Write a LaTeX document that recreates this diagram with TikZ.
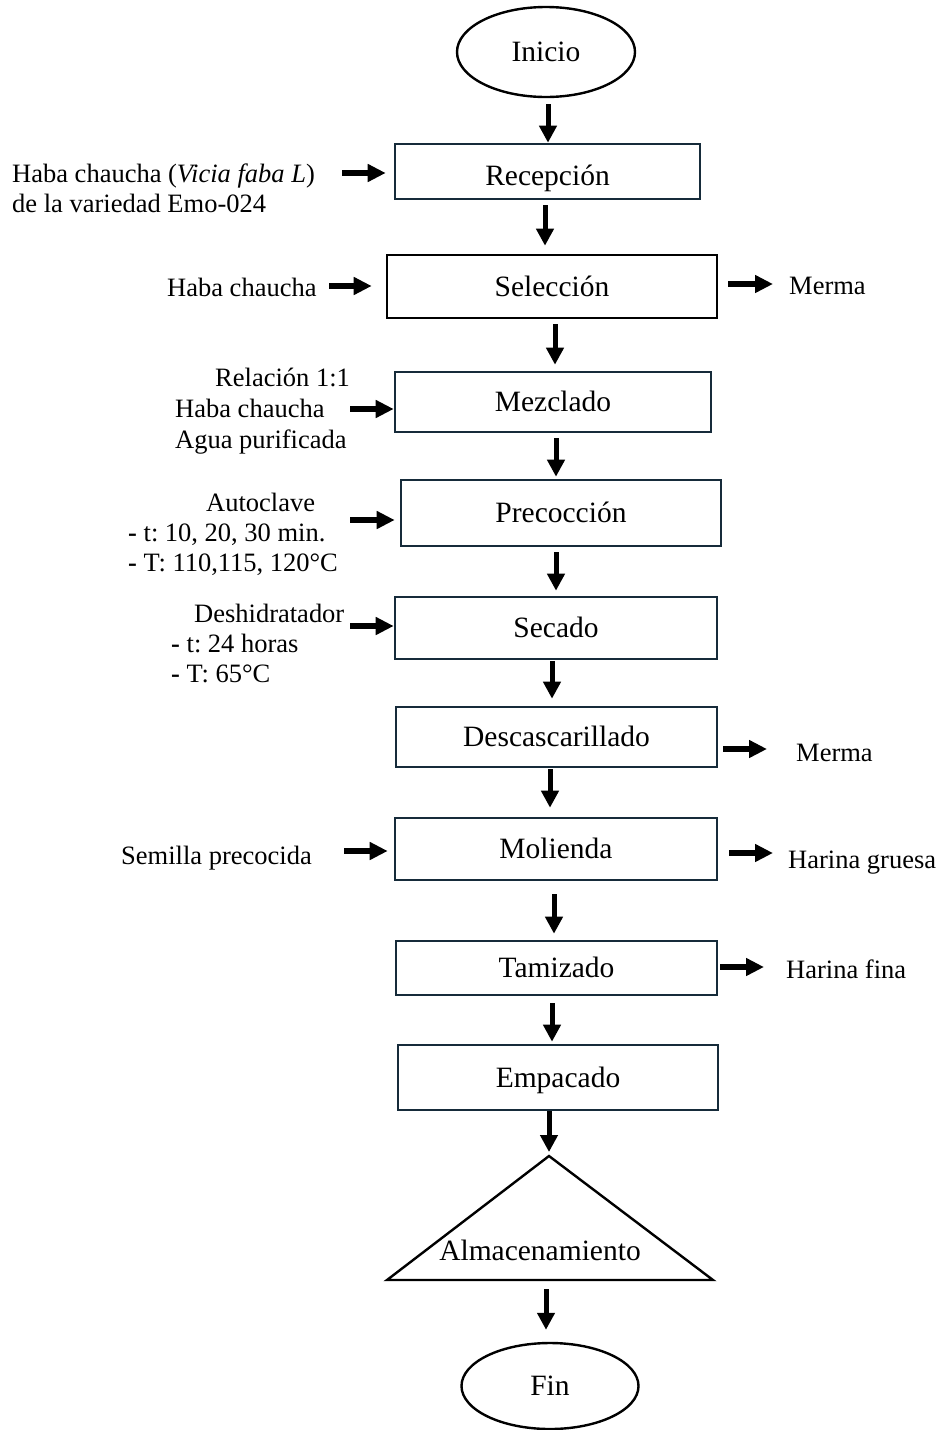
\documentclass[tikz,border=0pt]{standalone}
\usepackage{fontspec}
\setmainfont{Liberation Serif}
\usetikzlibrary{arrows.meta,shapes.geometric}
\definecolor{navy}{RGB}{22,43,58}
\frenchspacing
\begin{document}
\begin{tikzpicture}[x=1pt,y=-1pt,
  procbox/.style={draw=navy, line width=2.6pt, rectangle, inner sep=0pt, font=\fontsize{29.5}{32}\selectfont, text height=22pt, text depth=2.5pt},
  term/.style={draw=black, line width=2.4pt, ellipse, inner sep=0pt, font=\fontsize{29.5}{32}\selectfont},
  side/.style={anchor=base west, inner sep=0pt, font=\fontsize{26.5}{30}\selectfont},
  varr/.style={line width=5pt, -{Triangle[length=17pt,width=17pt]}},
  barr/.style={line width=6pt, -{Triangle[length=18pt,width=17pt]}},
]
\useasboundingbox (0,0) rectangle (936,1430);

% main column
\node[term, minimum width=178pt, minimum height=90pt] (ini) at (546,52) {Inicio};
\node[procbox, minimum width=305pt, minimum height=55pt, text height=28pt, text depth=0pt] (rec) at (547.5,171.5) {Recepción};
\node[procbox, draw=black, minimum width=330pt, minimum height=63pt] (sel) at (552,286.5) {Selección};
\node[procbox, minimum width=316pt, minimum height=60pt] (mez) at (553,402) {Mezclado};
\node[procbox, minimum width=320pt, minimum height=66pt] (pre) at (561,513) {Precocción};
\node[procbox, minimum width=322pt, minimum height=62pt] (sec) at (556,628) {Secado};
\node[procbox, minimum width=321pt, minimum height=60pt] (des) at (556.5,737) {Descascarillado};
\node[procbox, minimum width=322pt, minimum height=62pt] (mol) at (556,849) {Molienda};
\node[procbox, minimum width=321pt, minimum height=54pt] (tam) at (556.5,968) {Tamizado};
\node[procbox, minimum width=320pt, minimum height=65pt] (emp) at (558,1077.5) {Empacado};
\coordinate (almT) at (549,1156);
\coordinate (almL) at (387,1280);
\coordinate (almR) at (713,1280);
\draw[line width=2.4pt, line join=miter] (almT) -- (almR) -- (almL) -- cycle;
\node[inner sep=0pt, font=\fontsize{29.5}{32}\selectfont] (alm) at (540,1250) {Almacenamiento};
\node[term, minimum width=177pt, minimum height=86pt] (fin) at (550,1386) {Fin};

% vertical arrows
\draw[varr, shorten <=6pt] ([xshift=2pt]ini.south) -- ([xshift=0.5pt]rec.north);
\draw[varr, shorten <=5pt, shorten >=8pt] ([xshift=-2.5pt]rec.south) -- ([xshift=-7pt]sel.north);
\draw[varr, shorten <=5pt, shorten >=6pt] ([xshift=3pt]sel.south) -- ([xshift=2pt]mez.north);
\draw[varr, shorten <=5pt, shorten >=2pt] ([xshift=3pt]mez.south) -- ([xshift=-5pt]pre.north);
\draw[varr, shorten <=5pt, shorten >=5pt] ([xshift=-5pt]pre.south) -- ([xshift=0pt]sec.north);
\draw[varr, shorten <=1pt, shorten >=7pt] ([xshift=-4pt]sec.south) -- ([xshift=-4.5pt]des.north);
\draw[varr, shorten <=1pt, shorten >=9pt] ([xshift=-6.5pt]des.south) -- ([xshift=-6pt]mol.north);
\draw[varr, shorten <=13pt, shorten >=6pt] ([xshift=-2pt]mol.south) -- ([xshift=-2.5pt]tam.north);
\draw[varr, shorten <=7pt, shorten >=2pt] ([xshift=-4.5pt]tam.south) -- ([xshift=-6pt]emp.north);
\draw[varr, shorten >=4pt] ([xshift=-9pt]emp.south) -- (almT);
\draw[varr, shorten <=9pt, shorten >=12pt] ([xshift=-4pt]fin.north |- almL) -- ([xshift=-4pt]fin.north);

% side inputs
\coordinate (in1) at (342,173);
\draw[barr, shorten >=8pt] (in1) -- (in1 -| rec.west);
\coordinate (in2) at (329,286);
\draw[barr, shorten >=14pt] (in2) -- (in2 -| sel.west);
\coordinate (in3) at (350,409);
\draw[barr] (in3) -- (in3 -| mez.west);
\coordinate (in4) at (350,520);
\draw[barr, shorten >=5pt] (in4) -- (in4 -| pre.west);
\coordinate (in5) at (350,626);
\draw[barr] (in5) -- (in5 -| sec.west);
\coordinate (in6) at (344,851);
\draw[barr, shorten >=6pt] (in6) -- (in6 -| mol.west);

% side outputs
\coordinate (out1) at (773,284);
\draw[barr, shorten <=10pt] (out1 -| sel.east) -- (out1);
\coordinate (out2) at (767,749);
\draw[barr, shorten <=5pt] (out2 -| des.east) -- (out2);
\coordinate (out3) at (773,853);
\draw[barr, shorten <=11pt] (out3 -| mol.east) -- (out3);
\coordinate (out4) at (764,967);
\draw[barr, shorten <=2pt] (out4 -| tam.east) -- (out4);

% side texts
\node[side] (t1) at (12,182) {Haba chaucha (\textit{Vicia faba L})};
\node[side] (t2) at (12,212) {de la variedad Emo-024};
\node[side] (t3) at (167,296) {Haba chaucha};
\node[side] (t4) at (789,294) {Merma};
\node[side] (t5) at (215,386) {Relación 1:1};
\node[side] (t6) at (175,417) {Haba chaucha};
\node[side] (t7) at (175,448) {Agua purificada};
\node[side] (t8) at (206,511) {Autoclave};
\node[side] (t9) at (128,541) {\textbf{-} t: 10, 20, 30 min.};
\node[side] (t10) at (128,571) {\textbf{-} T: 110,115, 120°C};
\node[side] (t11) at (194,622) {Deshidratador};
\node[side] (t12) at (171,652) {\textbf{-} t: 24 horas};
\node[side] (t13) at (171,682) {\textbf{-} T: 65°C};
\node[side] (t14) at (796,761) {Merma};
\node[side] (t15) at (121,864) {Semilla precocida};
\node[side] (t16) at (788,868) {Harina gruesa};
\node[side] (t17) at (786,978) {Harina fina};
\end{tikzpicture}
\end{document}
